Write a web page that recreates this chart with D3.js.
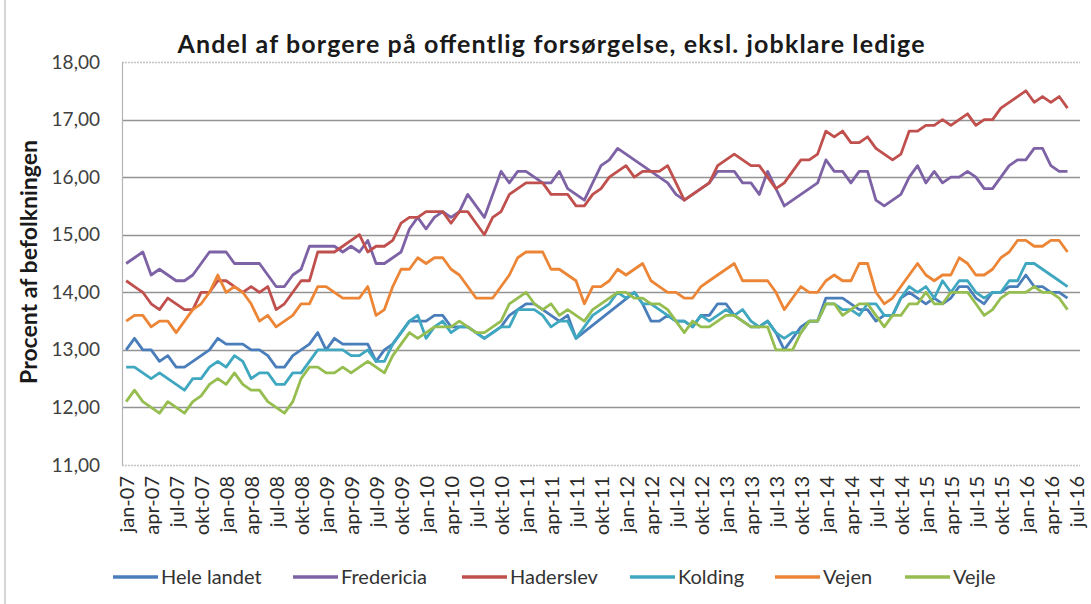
<!DOCTYPE html>
<html>
<head>
<meta charset="utf-8">
<script src="https://cdn.jsdelivr.net/npm/d3@7"></script>
<style>
  body { margin: 0; background: #ffffff; }
  svg { display: block; font-family: Lato, "Liberation Sans", sans-serif; }
</style>
</head>
<body>
<div id="chart"></div>
<script>
// #############################################################
// DATA
// #############################################################

var monthNames = ["jan", "feb", "mar", "apr", "maj", "jun", "jul", "aug", "sep", "okt", "nov", "dec"];
var years = ["07", "08", "09", "10", "11", "12", "13", "14", "15", "16"];
var lastMonth = 7; // axis runs to jul-16

var yTicks = [11, 12, 13, 14, 15, 16, 17, 18];

var seriesNames = ["Hele landet", "Fredericia", "Haderslev", "Kolding", "Vejen", "Vejle"];

var heleLandet = [
  13.0,13.2,13.0,13.0,12.8,12.9,12.7,12.7,12.8,12.9,
  13.0,13.2,13.1,13.1,13.1,13.0,13.0,12.9,12.7,12.7,
  12.9,13.0,13.1,13.3,13.0,13.2,13.1,13.1,13.1,13.1,
  12.8,13.0,13.1,13.3,13.5,13.5,13.5,13.6,13.6,13.4,
  13.4,13.4,13.3,13.2,13.3,13.4,13.6,13.7,13.8,13.8,
  13.7,13.6,13.5,13.6,13.2,null,null,null,null,null,
  null,14.0,13.8,13.5,13.5,13.6,13.5,13.5,13.4,13.6,
  13.6,13.8,13.8,13.6,13.5,13.4,13.4,13.5,13.3,13.0,
  13.2,13.4,13.5,13.5,13.9,13.9,13.9,13.8,13.7,13.7,
  13.5,13.6,13.6,13.9,14.0,13.9,13.8,13.9,13.8,13.9,
  14.1,14.1,13.9,13.8,14.0,14.0,14.1,14.1,14.3,14.1,
  14.1,14.0,14.0,13.9
];

var fredericia = [
  14.5,14.6,14.7,14.3,14.4,14.3,14.2,14.2,14.3,14.5,
  14.7,14.7,14.7,14.5,14.5,14.5,14.5,14.3,14.1,14.1,
  14.3,14.4,14.8,14.8,14.8,14.8,14.7,14.8,14.7,14.9,
  14.5,14.5,14.6,14.7,15.1,15.3,15.1,15.3,15.4,15.3,
  15.4,15.7,15.5,15.3,15.7,16.1,15.9,16.1,16.1,16.0,
  15.9,15.9,16.1,15.8,15.7,15.6,15.9,16.2,16.3,16.5,
  16.4,16.3,16.2,16.1,16.0,15.9,15.7,15.6,15.7,15.8,
  15.9,16.1,16.1,16.1,15.9,15.9,15.7,16.1,15.8,15.5,
  15.6,15.7,15.8,15.9,16.3,16.1,16.1,15.9,16.1,16.1,
  15.6,15.5,15.6,15.7,16.0,16.2,15.9,16.1,15.9,16.0,
  16.0,16.1,16.0,15.8,15.8,16.0,16.2,16.3,16.3,16.5,
  16.5,16.2,16.1,16.1
];

var haderslev = [
  14.2,14.1,14.0,13.8,13.7,13.9,13.8,13.7,13.7,14.0,
  14.0,14.2,14.2,14.1,14.0,14.1,14.0,14.1,13.7,13.8,
  14.0,14.2,14.2,14.7,14.7,14.7,14.8,14.9,15.0,14.7,
  14.8,14.8,14.9,15.2,15.3,15.3,15.4,15.4,15.4,15.2,
  15.4,15.4,15.2,15.0,15.3,15.4,15.7,15.8,15.9,15.9,
  15.9,15.7,15.7,15.7,15.5,15.5,15.7,15.8,16.0,16.1,
  16.2,16.0,16.1,16.1,16.1,16.2,15.9,15.6,15.7,15.8,
  15.9,16.2,16.3,16.4,16.3,16.2,16.2,16.0,15.8,15.9,
  16.1,16.3,16.3,16.4,16.8,16.7,16.8,16.6,16.6,16.7,
  16.5,16.4,16.3,16.4,16.8,16.8,16.9,16.9,17.0,16.9,
  17.0,17.1,16.9,17.0,17.0,17.2,17.3,17.4,17.5,17.3,
  17.4,17.3,17.4,17.2
];

var kolding = [
  12.7,12.7,12.6,12.5,12.6,12.5,12.4,12.3,12.5,12.5,
  12.7,12.8,12.7,12.9,12.8,12.5,12.6,12.6,12.4,12.4,
  12.6,12.6,12.8,13.0,13.0,13.0,13.0,12.9,12.9,13.0,
  12.8,12.8,13.1,13.3,13.5,13.6,13.2,13.4,13.5,13.3,
  13.4,13.4,13.3,13.2,13.3,13.4,13.4,13.7,13.7,13.7,
  13.6,13.4,13.5,13.5,13.2,13.4,13.6,13.7,13.8,14.0,
  13.9,14.0,13.8,13.8,13.7,13.6,13.5,13.5,13.4,13.6,
  13.5,13.6,13.7,13.6,13.7,13.5,13.4,13.5,13.3,13.2,
  13.3,13.3,13.5,13.5,13.8,13.8,13.7,13.7,13.6,13.8,
  13.8,13.6,13.6,13.9,14.1,14.0,14.1,13.9,14.2,14.0,
  14.2,14.2,14.0,13.9,14.0,14.0,14.2,14.2,14.5,14.5,
  14.4,14.3,14.2,14.1
];

var vejen = [
  13.5,13.6,13.6,13.4,13.5,13.5,13.3,13.5,13.7,13.8,
  14.0,14.3,14.0,14.1,14.0,13.8,13.5,13.6,13.4,13.5,
  13.6,13.8,13.8,14.1,14.1,14.0,13.9,13.9,13.9,14.1,
  13.6,13.7,14.1,14.4,14.4,14.6,14.5,14.6,14.6,14.4,
  14.3,14.1,13.9,13.9,13.9,14.1,14.3,14.6,14.7,14.7,
  14.7,14.4,14.4,14.3,14.2,13.8,14.1,14.1,14.2,14.4,
  14.3,14.4,14.5,14.2,14.1,14.0,14.0,13.9,13.9,14.1,
  14.2,14.3,14.4,14.5,14.2,14.2,14.2,14.2,14.0,13.7,
  13.9,14.1,14.0,14.0,14.2,14.3,14.2,14.2,14.5,14.5,
  14.0,13.8,13.9,14.1,14.3,14.5,14.3,14.2,14.3,14.3,
  14.6,14.5,14.3,14.3,14.4,14.6,14.7,14.9,14.9,14.8,
  14.8,14.9,14.9,14.7
];

var vejle = [
  12.1,12.3,12.1,12.0,11.9,12.1,12.0,11.9,12.1,12.2,
  12.4,12.5,12.4,12.6,12.4,12.3,12.3,12.1,12.0,11.9,
  12.1,12.5,12.7,12.7,12.6,12.6,12.7,12.6,12.7,12.8,
  12.7,12.6,12.9,13.1,13.3,13.2,13.3,13.4,13.4,13.4,
  13.5,13.4,13.3,13.3,13.4,13.5,13.8,13.9,14.0,13.8,
  13.7,13.8,13.6,13.7,13.6,13.5,13.7,13.8,13.9,14.0,
  14.0,13.9,13.9,13.8,13.8,13.7,13.5,13.3,13.5,13.4,
  13.4,13.5,13.6,13.6,13.5,13.4,13.4,13.4,13.0,13.0,
  13.0,13.3,13.5,13.5,13.8,13.8,13.6,13.7,13.8,13.8,
  13.6,13.4,13.6,13.6,13.8,13.8,14.0,13.8,13.8,14.0,
  14.0,14.0,13.8,13.6,13.7,13.9,14.0,14.0,14.0,14.1,
  14.0,14.0,13.9,13.7
];

var seriesValues = [heleLandet, fredericia, haderslev, kolding, vejen, vejle];
var seriesColors = ["#4a7ebb", "#7e62a6", "#c0504d", "#3fa7c0", "#ec8636", "#95bd50"];

// category labels jan-07 ... jul-16
var categories = [];
years.forEach(function(y, yi) {
  monthNames.forEach(function(m, mi) {
    if (yi === years.length - 1 && mi >= lastMonth) return;
    categories.push(m + "-" + y);
  });
});

// #############################################################
// CANVAS
// #############################################################

var W = 1091, H = 604;
var plot = {left: 122, right: 1080, top: 62, bottom: 465};

var svg = d3.select("#chart")
  .append("svg")
    .attr("width", W)
    .attr("height", H);

svg.append("rect")
    .attr("width", W)
    .attr("height", H)
    .attr("fill", "#ffffff");

// outer frame line on the left
svg.append("line")
    .attr("x1", 5).attr("x2", 5)
    .attr("y1", 0).attr("y2", H)
    .attr("stroke", "#c8c8c8")
    .attr("stroke-width", 1.5);

// #############################################################
// SCALES & AXES
// #############################################################

var xScale = d3.scalePoint()
    .domain(categories)
    .range([plot.left, plot.right])
    .padding(0.5);

var yScale = d3.scaleLinear()
    .domain([11, 18])
    .range([plot.bottom, plot.top]);

var fmt = function(d) { return d3.format(".2f")(d).replace(".", ","); };

// gridlines
svg.append("g")
    .selectAll("line")
    .data(yTicks)
    .enter()
    .append("line")
      .attr("x1", plot.left)
      .attr("x2", plot.right)
      .attr("y1", d => Math.round(yScale(d)) + 0.5)
      .attr("y2", d => Math.round(yScale(d)) + 0.5)
      .attr("stroke", d => (d === 11 || d === 18) ? "#c4c4c4" : "#939393")
      .attr("stroke-dasharray", d => (d === 11 || d === 18) ? "2,1" : null)
      .attr("stroke-width", 1.3);

// left axis line
svg.append("line")
    .attr("x1", plot.left + 0.5).attr("x2", plot.left + 0.5)
    .attr("y1", plot.top).attr("y2", plot.bottom)
    .attr("stroke", "#b4b4b4")
    .attr("stroke-width", 1.2);

// y tick labels
var yAxis = d3.axisLeft(yScale)
    .tickValues(yTicks)
    .tickFormat(fmt)
    .tickSize(0)
    .tickPadding(0);

svg.append("g")
    .attr("id", "yAxis")
    .attr("transform", "translate(100,0)")
    .call(yAxis)
    .call(g => g.select(".domain").remove())
    .selectAll("text")
      .attr("font-size", 19)
      .attr("font-family", "Lato, sans-serif")
      .attr("fill", "#404040");

// x tick labels, every third month
var xTickLabels = categories.filter((c, i) => i % 3 === 0);

svg.append("g")
    .attr("id", "xAxis")
    .selectAll("text")
    .data(xTickLabels)
    .enter()
    .append("text")
      .attr("transform", d => "translate(" + (xScale(d) + 1) + "," + (plot.bottom + 11) + ") rotate(-90)")
      .attr("text-anchor", "end")
      .attr("dy", "0.35em")
      .attr("font-size", 20)
      .attr("fill", "#2a2a2a")
      .text(d => d);

// #############################################################
// LINES
// #############################################################

var line = d3.line()
    .x(d => xScale(categories[d.i]))
    .y(d => yScale(d.v));

seriesValues.forEach(function(vals, s) {
  // missing months are skipped so the line connects across them
  var pts = vals.map((v, i) => ({i: i, v: v})).filter(d => d.v != null);
  svg.append("path")
      .datum(pts)
      .attr("fill", "none")
      .attr("stroke", seriesColors[s])
      .attr("stroke-width", 2.8)
      .attr("stroke-linejoin", "round")
      .attr("d", line);
});

// #############################################################
// TITLES
// #############################################################

svg.append("text")
    .attr("x", 551)
    .attr("y", 53)
    .attr("text-anchor", "middle")
    .attr("font-size", 25)
    .attr("font-weight", "bold")
    .attr("fill", "#1a1a1a")
    .attr("textLength", 747)
    .attr("lengthAdjust", "spacing")
    .text("Andel af borgere på offentlig forsørgelse, eksl. jobklare ledige");

svg.append("text")
    .attr("transform", "translate(37,262) rotate(-90)")
    .attr("text-anchor", "middle")
    .attr("font-size", 23)
    .attr("font-weight", "bold")
    .attr("fill", "#1a1a1a")
    .text("Procent af befolkningen");

// #############################################################
// LEGEND
// #############################################################

var legendX = [113, 293, 462, 630, 775, 905];
var legendY = 577;

var legend = svg.append("g")
    .selectAll("g")
    .data(seriesNames)
    .enter()
    .append("g")
      .attr("transform", (d, i) => "translate(" + legendX[i] + "," + legendY + ")");

legend.append("line")
    .attr("x1", 0).attr("x2", 45)
    .attr("stroke", (d, i) => seriesColors[i])
    .attr("stroke-width", 3.5);

legend.append("text")
    .attr("x", 48)
    .attr("dy", "0.35em")
    .attr("font-size", 20)
    .attr("fill", "#333333")
    .text(d => d);
</script>
</body>
</html>
